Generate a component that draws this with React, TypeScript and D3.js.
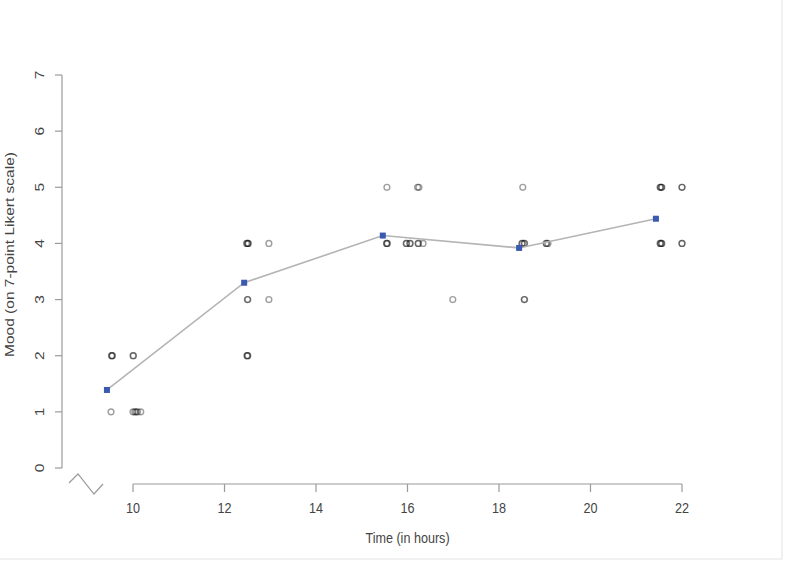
import React from 'react'
import * as d3 from 'd3'

// individual observations (time in hours, mood 0-7)
const obsTime = [
  9.54, 9.55, 9.53, 9.52, 10.0, 10.01, 10.0, 10.04, 10.07, 10.1, 10.17,
  12.48, 12.5, 12.52, 12.51, 12.97, 12.5, 12.51, 12.97, 12.49, 12.5, 12.51,
  15.55, 16.22, 16.25, 15.55, 15.56, 15.54, 15.97, 15.98, 16.05, 16.06, 16.23, 16.24, 16.34, 16.99,
  18.52, 18.5, 18.51, 18.55, 18.56, 19.03, 19.04, 19.07, 18.55, 18.56,
  21.52, 21.53, 21.56, 21.55, 22.0, 22.0, 21.52, 21.53, 21.56, 21.55, 22.0, 22.0,
]
const obsMood = [
  2, 2, 2, 1, 2, 2, 1, 1, 1, 1, 1,
  4, 4, 4, 4, 4, 3, 3, 3, 2, 2, 2,
  5, 5, 5, 4, 4, 4, 4, 4, 4, 4, 4, 4, 4, 3,
  5, 4, 4, 4, 4, 4, 4, 4, 3, 3,
  5, 5, 5, 5, 5, 5, 4, 4, 4, 4, 4, 4,
]

// group means
const meanTime = [9.43, 12.43, 15.46, 18.44, 21.43]
const meanMood = [1.39, 3.3, 4.14, 3.92, 4.44]

const xTicks = [10, 12, 14, 16, 18, 20, 22]
const yTicks = [0, 1, 2, 3, 4, 5, 6, 7]

const W = 786, H = 561

export default function App() {
  const x = d3.scaleLinear().domain([10, 22]).range([133, 682])
  const y = d3.scaleLinear().domain([0, 7]).range([468, 75])
  const axisY = 484, axisX = 62
  const font = '"Liberation Sans", Arial, sans-serif'
  const axisCol = '#9a9a9a'
  const textCol = '#444'
  const sy = 1.23 // the picture is a bit stretched vertically

  const line = d3.line<number>()
    .x((d, i) => x(meanTime[i]))
    .y(d => y(d))

  // break marker left of the x axis
  const bx = x(10) - 64
  const zig = [[bx, axisY - 1], [bx + 9, axisY - 10], [bx + 25, axisY + 10], [bx + 34, axisY]]

  return (
    <svg width={W} height={H} style={{position: 'absolute', left: 0, top: 0, background: '#fff'}}>
      <g fontFamily={font} fontSize={12.6} fill={textCol}>
        {/* y axis */}
        <line x1={axisX} x2={axisX} y1={y(0)} y2={y(7)} stroke={axisCol} strokeWidth={1.2}/>
        {yTicks.map(t => (
          <g key={t}>
            <line x1={axisX - 7} x2={axisX} y1={y(t)} y2={y(t)} stroke={axisCol} strokeWidth={1.2}/>
            <text transform={`translate(${axisX - 22},${y(t)}) scale(1,${sy}) rotate(-90)`} textAnchor="middle" dy="0.35em">{t}</text>
          </g>
        ))}
        <text transform={`translate(10,${(y(0) + y(7)) / 2 - 17}) scale(1,${sy}) rotate(-90)`} textAnchor="middle" dy="0.35em">
          Mood (on 7-point Likert scale)
        </text>

        {/* x axis */}
        <line x1={x(10)} x2={x(22)} y1={axisY} y2={axisY} stroke={axisCol} strokeWidth={1.2}/>
        {xTicks.map(t => (
          <g key={t}>
            <line x1={x(t)} x2={x(t)} y1={axisY} y2={axisY + 8} stroke={axisCol} strokeWidth={1.2}/>
            <text transform={`translate(${x(t)},${axisY + 29}) scale(1,${sy})`} textAnchor="middle">{t}</text>
          </g>
        ))}
        <text transform={`translate(${(x(10) + x(22)) / 2},${axisY + 59}) scale(1,${sy})`} textAnchor="middle">Time (in hours)</text>

        <polyline points={zig.map(p => p.join(',')).join(' ')} fill="none" stroke={axisCol} strokeWidth={1.2}/>
      </g>

      {/* observations */}
      {obsTime.map((t, i) => (
        <circle key={i} cx={x(t)} cy={y(obsMood[i])} r={2.9}
          fill="none" stroke="rgba(0,0,0,0.38)" strokeWidth={1.4}/>
      ))}

      {/* mean line */}
      <path d={line(meanMood) || ''} fill="none" stroke="#b4b4b4" strokeWidth={1.6}/>
      {meanTime.map((t, i) => (
        <rect key={i} x={x(t) - 3} y={y(meanMood[i]) - 3} width={6} height={6} fill="#3a59b0"/>
      ))}

      {/* frame of the picture */}
      <line x1={0} x2={782} y1={559} y2={559} stroke="#e2e2e2"/>
      <line x1={782} x2={782} y1={0} y2={559} stroke="#e2e2e2"/>
    </svg>
  )
}
